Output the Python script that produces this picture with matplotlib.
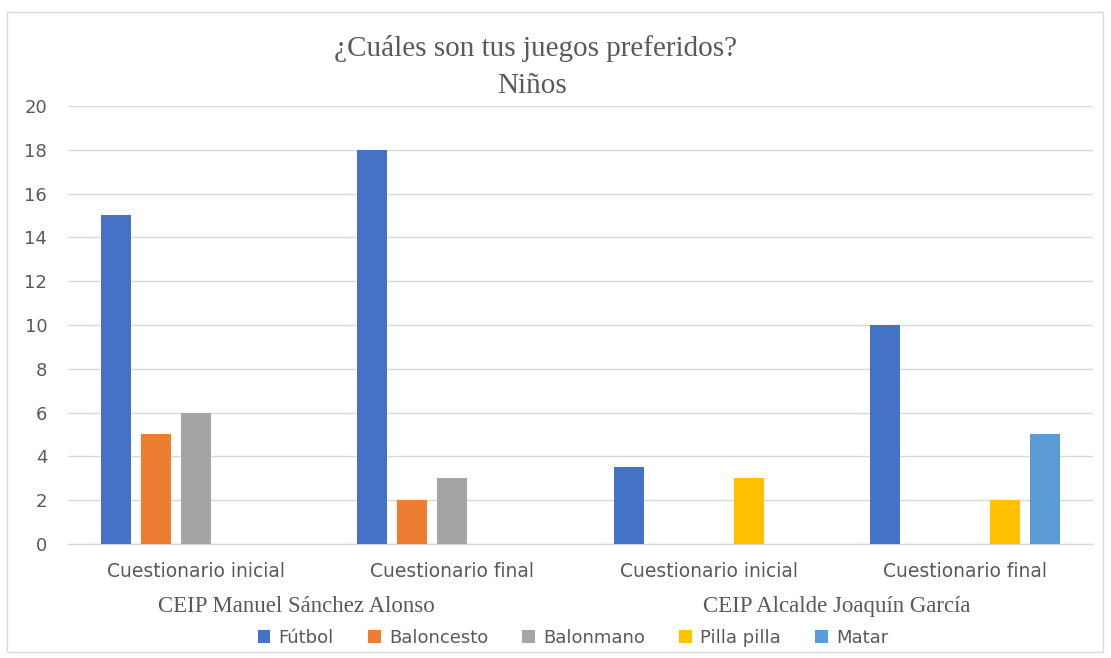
"""Grouped bar chart: ¿Cuáles son tus juegos preferidos? Niños."""

import numpy as np
import matplotlib
matplotlib.use('Agg')
import matplotlib.pyplot as plt
from matplotlib.patches import Rectangle

plt.rcParams['font.family'] = ['DejaVu Sans']

# Data
categories = ['Cuestionario inicial', 'Cuestionario final',
              'Cuestionario inicial', 'Cuestionario final']
schools = ['CEIP Manuel Sánchez Alonso', 'CEIP Alcalde Joaquín García']
series = ['Fútbol', 'Baloncesto', 'Balonmano', 'Pilla pilla', 'Matar']
futbol = [15, 18, 3.5, 10]
baloncesto = [5, 2, 0, 0]
balonmano = [6, 3, 0, 0]
pilla_pilla = [0, 0, 3, 2]
matar = [0, 0, 0, 5]
colors = ['#4472C4', '#ED7D31', '#A5A5A5', '#FFC000', '#5B9BD5']

values = [futbol, baloncesto, balonmano, pilla_pilla, matar]
text_gray = '#595959'
grid_gray = '#D9D9D9'

fig = plt.figure(figsize=(11.11, 6.58), dpi=100)
ax = fig.add_axes([0.0612, 0.1733, 0.9226, 0.6656])

x = np.arange(len(categories))
slot = 0.156
width = 0.117
for i, (name, vals, col) in enumerate(zip(series, values, colors)):
    ax.bar(x + (i - 2) * slot, vals, width, color=col, label=name,
           linewidth=0, zorder=3)

ax.set_xlim(-0.5, len(categories) - 0.5)
ax.set_ylim(0, 20)
ax.set_yticks(np.arange(0, 21, 2))
ax.yaxis.grid(True, color=grid_gray, linewidth=1, zorder=0)
ax.set_axisbelow(True)
for side in ['top', 'right', 'left']:
    ax.spines[side].set_visible(False)
ax.spines['bottom'].set_color(grid_gray)
ax.spines['bottom'].set_linewidth(1)
ax.tick_params(axis='y', length=0, pad=15, labelsize=13, labelcolor=text_gray)
ax.tick_params(axis='x', length=0, pad=13, labelsize=13.5, labelcolor=text_gray)
ax.set_xticks(x)
ax.set_xticklabels(categories)

# School group labels under the category labels
blend = ax.get_xaxis_transform()
ax.text(0.39, -0.142, schools[0], transform=blend, ha='center', va='center',
        family='Liberation Serif', fontsize=16.5, color=text_gray)
ax.text(2.5, -0.142, schools[1], transform=blend, ha='center', va='center',
        family='Liberation Serif', fontsize=16.5, color=text_gray)

# Title
fig.text(536 / 1111, 1 - 48 / 658, '¿Cuáles son tus juegos preferidos?',
         ha='center', va='center', family='Liberation Serif', fontsize=21,
         color=text_gray)
fig.text(532 / 1111, 1 - 86 / 658, 'Niños', ha='center', va='center',
         family='Liberation Serif', fontsize=21, color=text_gray)

# Legend
leg = fig.legend(loc='center', bbox_to_anchor=(573 / 1111, 1 - 638 / 658),
                 ncol=5, frameon=False, fontsize=13, handlelength=0.7,
                 handleheight=0.7, handletextpad=0.45, columnspacing=1.9)
for t in leg.get_texts():
    t.set_color(text_gray)

# Chart border
fig.patches.append(Rectangle((7 / 1111, 6 / 658), 1096 / 1111, 640 / 658,
                             transform=fig.transFigure, fill=False,
                             edgecolor='#D9D9D9', linewidth=1))

fig.savefig('out.png', dpi=100, facecolor='white')
plt.close(fig)
